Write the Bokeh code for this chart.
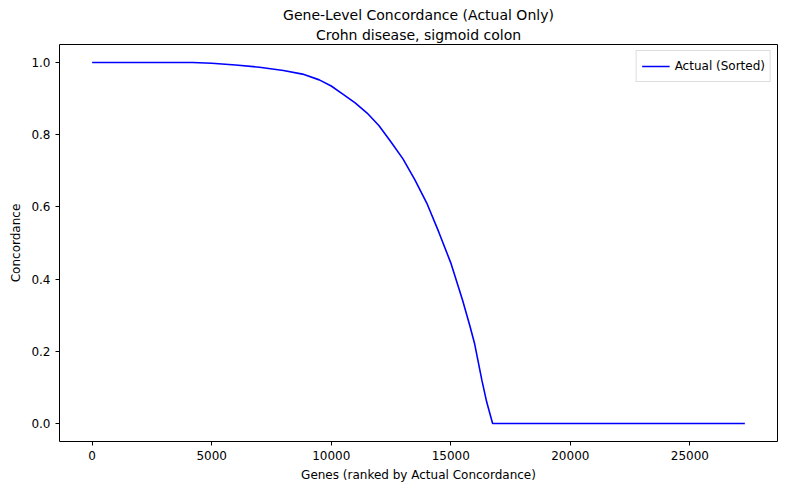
from bokeh.plotting import figure
from bokeh.models import Range1d, Legend, LegendItem, Title, CustomJSTickFormatter
from bokeh.embed import file_html
from bokeh.resources import INLINE

rank = [0, 4200, 5000, 6000, 7000, 8000, 8800, 9500, 10000, 10500, 11000, 11500,
        12000, 12500, 13000, 13500, 14000, 14500, 15000, 15500, 15800, 16000,
        16300, 16500, 16750, 27300]
conc = [1.0, 1.0, 0.998, 0.993, 0.987, 0.978, 0.968, 0.952, 0.935, 0.912, 0.888, 0.86,
        0.825, 0.78, 0.733, 0.675, 0.61, 0.53, 0.445, 0.34, 0.27, 0.22,
        0.12, 0.06, 0.0, 0.0]
xticks = [0, 5000, 10000, 15000, 20000, 25000]
yticks = [0.0, 0.2, 0.4, 0.6, 0.8, 1.0]

p = figure(width=784, height=491, output_backend="svg", toolbar_location=None,
           x_range=Range1d(-1365, 28665), y_range=Range1d(-0.05, 1.05),
           min_border_left=59, min_border_right=7, min_border_bottom=50, min_border_top=44)
p.title = None
p.add_layout(Title(text="Crohn disease, sigmoid colon", align="center", text_font_size="14px",
                   text_font_style="normal", text_font="DejaVu Sans", text_color="black",
                   standoff=4), "above")
p.add_layout(Title(text="Gene-Level Concordance (Actual Only)", align="center", text_font_size="14px",
                   text_font_style="normal", text_font="DejaVu Sans", text_color="black",
                   standoff=0), "above")

r = p.line(rank, conc, line_color="blue", line_width=1.6)

p.xgrid.visible = False
p.ygrid.visible = False
p.outline_line_color = "black"
p.xaxis.ticker = xticks
p.yaxis.ticker = yticks
p.yaxis.formatter = CustomJSTickFormatter(code="return tick.toFixed(1)")
p.xaxis.formatter = CustomJSTickFormatter(code="return tick.toFixed(0)")
for ax in (p.xaxis, p.yaxis):
    ax.minor_tick_line_color = None
    ax.major_tick_in = 0
    ax.major_tick_out = 4
    ax.axis_line_color = None
    ax.major_label_text_font = "DejaVu Sans"
    ax.major_label_text_font_size = "12px"
    ax.major_label_text_color = "black"
    ax.axis_label_text_font = "DejaVu Sans"
    ax.axis_label_text_font_size = "12px"
    ax.axis_label_text_font_style = "normal"
    ax.axis_label_text_color = "black"
p.xaxis.axis_label = "Genes (ranked by Actual Concordance)"
p.yaxis.axis_label = "Concordance"

legend = Legend(items=[LegendItem(label="Actual (Sorted)", renderers=[r])],
                location="top_right", border_line_color="#bbbbbb",
                label_text_font="DejaVu Sans", label_text_font_size="12px",
                label_text_color="black",
                glyph_width=28, padding=5, spacing=0, margin=6)
p.add_layout(legend)

open("out.html", "w").write(file_html(p, INLINE))
